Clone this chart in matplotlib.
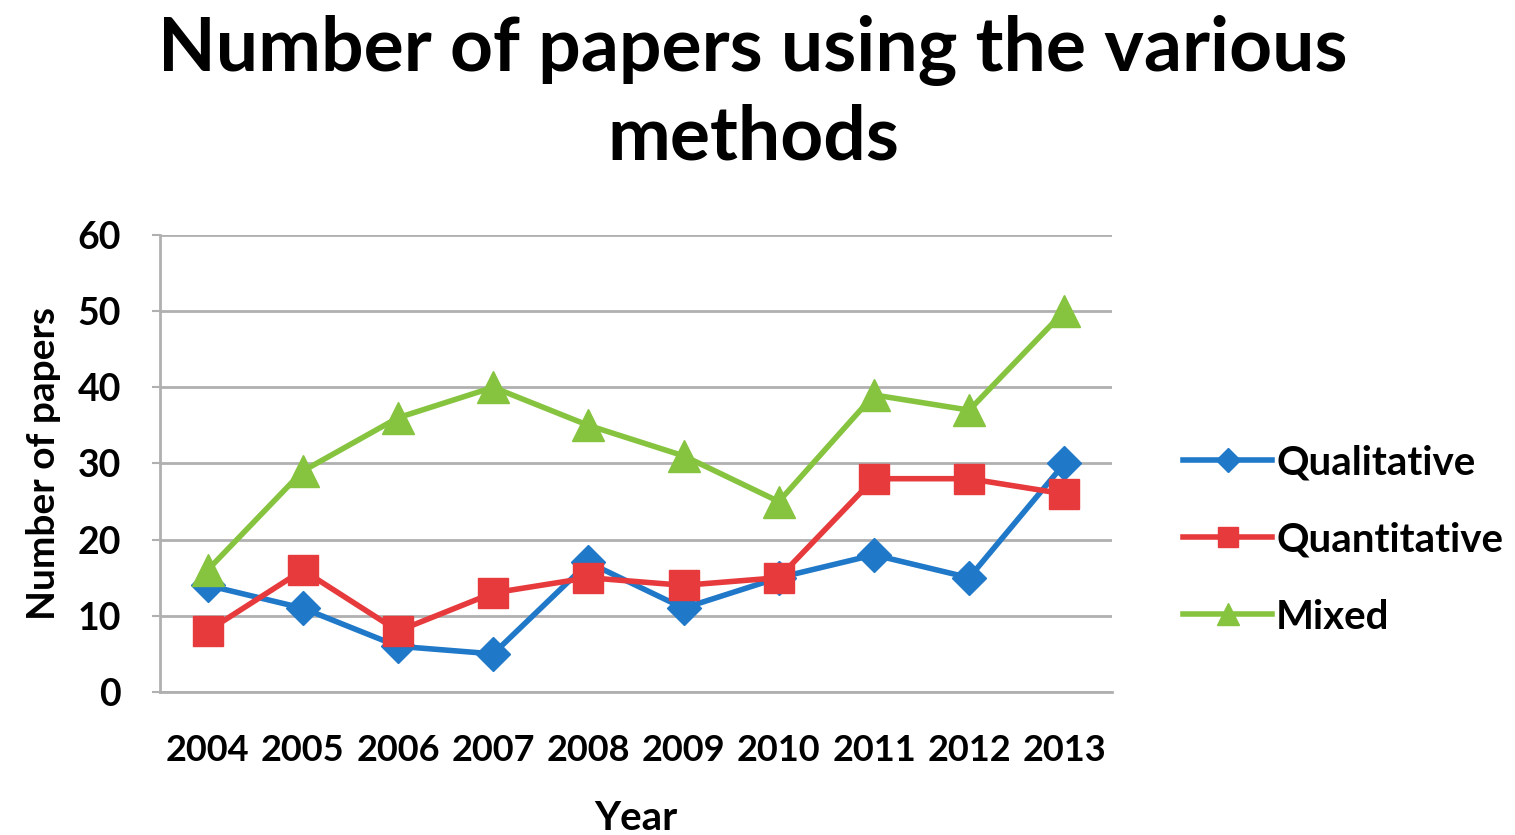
import matplotlib
matplotlib.use("Agg")
import matplotlib.pyplot as plt
import numpy as np

years = ["2004", "2005", "2006", "2007", "2008", "2009", "2010", "2011", "2012", "2013"]
qualitative = [14, 11, 6, 5, 17, 11, 15, 18, 15, 30]
quantitative = [8, 16, 8, 13, 15, 14, 15, 28, 28, 26]
mixed = [16, 29, 36, 40, 35, 31, 25, 39, 37, 50]

plt.rcParams['font.family'] = ['Lato', 'DejaVu Sans']
plt.rcParams['font.weight'] = 'bold'

fig = plt.figure(figsize=(15.15, 8.35), dpi=100)
ax = fig.add_axes([0.1056, 0.1713, 0.6284, 0.5473])

x = np.arange(len(years))
ax.plot(x, qualitative, color='#1f78c8', lw=4, marker='D', ms=17, label='Qualitative')
ax.plot(x, quantitative, color='#e63a3c', lw=4, marker='s', ms=21, label='Quantitative')
ax.plot(x, mixed, color='#86c440', lw=4, marker='^', ms=23, label='Mixed')

ax.set_xlim(-0.5, len(years) - 0.5)
ax.set_ylim(0, 60)
ax.set_yticks(range(0, 61, 10))
ax.set_xticks(x)
ax.set_xticklabels(years)
ax.tick_params(axis='x', length=0, pad=30, labelsize=26)
ax.tick_params(axis='y', length=6, width=1.5, color='#b0b0b0', pad=22, labelsize=27)
ax.grid(axis='y', color='#b0b0b0', lw=2)
ax.set_axisbelow(True)
for s in ['top', 'right']:
    ax.spines[s].set_visible(False)
ax.spines['left'].set_color('#b0b0b0')
ax.spines['bottom'].set_color('#b0b0b0')
ax.spines['left'].set_linewidth(2)
ax.spines['bottom'].set_linewidth(2)

ax.set_xlabel('Year', fontsize=29, fontweight='bold', labelpad=24)
ax.set_ylabel('Number of papers', fontsize=28, fontweight='bold', labelpad=12)

fig.suptitle('Number of papers using the various\nmethods', x=0.497, y=0.982,
             fontsize=54, fontweight='bold', linespacing=1.32)

ax.legend(loc='center left', bbox_to_anchor=(1.075, 0.333), frameon=False,
          fontsize=29, handlelength=2.2, handletextpad=0.1, labelspacing=1.0,
          borderpad=0, borderaxespad=0, markerscale=0.7)

fig.savefig('out.png', dpi=100)
